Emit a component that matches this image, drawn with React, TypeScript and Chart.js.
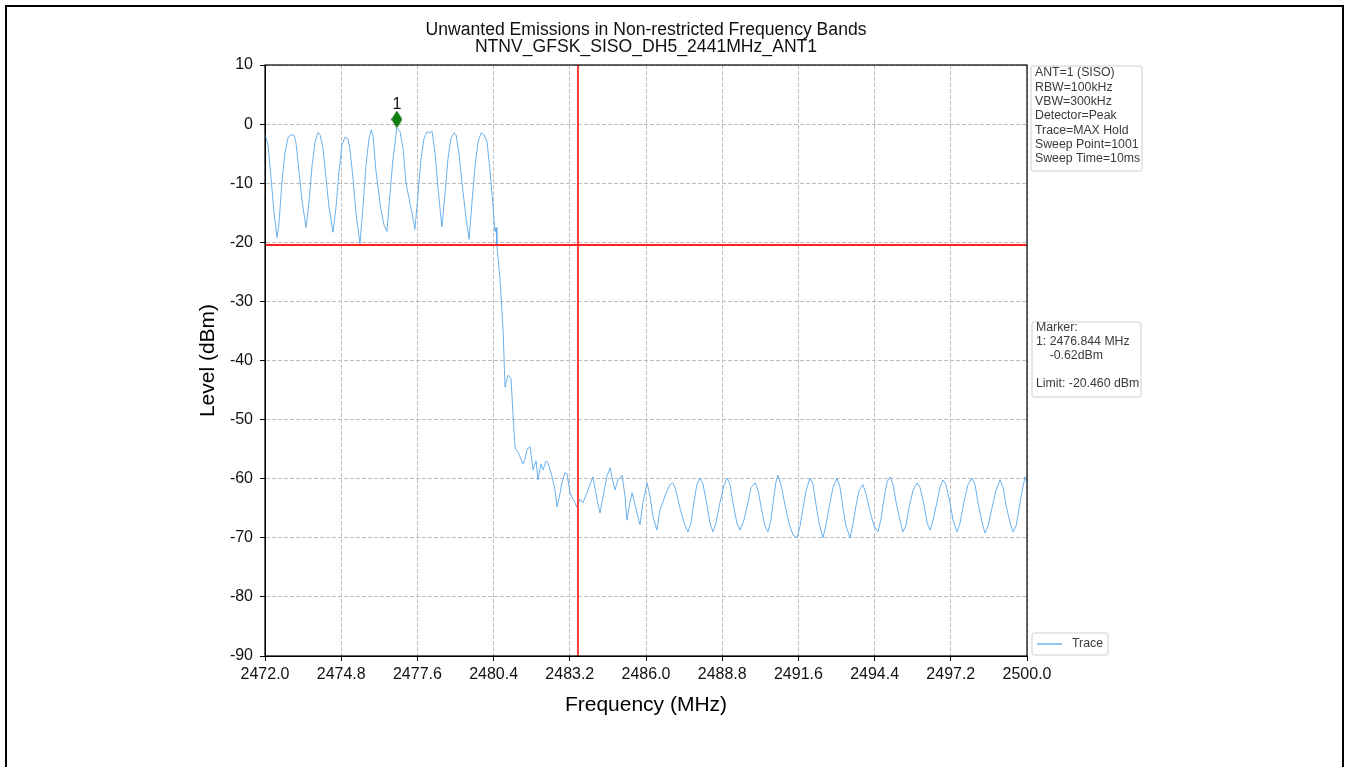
import React, { useEffect, useRef } from 'react';
import { Chart, registerables } from 'chart.js';

Chart.register(...registerables);

// ---------- data ----------
const titleLines = [
  'Unwanted Emissions in Non-restricted Frequency Bands',
  'NTNV_GFSK_SISO_DH5_2441MHz_ANT1',
];
const xAxisTitle = 'Frequency (MHz)';
const yAxisTitle = 'Level (dBm)';

const xTicks = [2472.0, 2474.8, 2477.6, 2480.4, 2483.2, 2486.0, 2488.8, 2491.6, 2494.4, 2497.2, 2500.0];
const yTicks = [-90, -80, -70, -60, -50, -40, -30, -20, -10, 0, 10];

const traceFreq = [
  2472.00, 2472.11, 2472.22, 2472.33, 2472.44, 2472.51, 2472.62, 2472.73, 2472.85, 2472.96,
  2473.07, 2473.14, 2473.25, 2473.36, 2473.51, 2473.62, 2473.73, 2473.84, 2473.95, 2474.02,
  2474.13, 2474.24, 2474.35, 2474.50, 2474.61, 2474.72, 2474.83, 2474.94, 2475.05, 2475.12,
  2475.23, 2475.34, 2475.49, 2475.60, 2475.71, 2475.82, 2475.90, 2475.97, 2476.08, 2476.19,
  2476.26, 2476.37, 2476.48, 2476.59, 2476.70, 2476.81, 2476.84, 2476.89, 2476.96, 2477.07,
  2477.18, 2477.29, 2477.40, 2477.51, 2477.62, 2477.73, 2477.84, 2477.95, 2478.06, 2478.14,
  2478.25, 2478.36, 2478.50, 2478.61, 2478.72, 2478.83, 2478.94, 2479.02, 2479.13, 2479.24,
  2479.39, 2479.50, 2479.61, 2479.72, 2479.83, 2479.94, 2480.05, 2480.16, 2480.27, 2480.38,
  2480.45, 2480.49, 2480.52, 2480.64, 2480.75, 2480.82, 2480.93, 2481.04, 2481.11, 2481.19,
  2481.30, 2481.37, 2481.48, 2481.55, 2481.63, 2481.74, 2481.85, 2481.96, 2482.03, 2482.14,
  2482.22, 2482.33, 2482.40, 2482.55, 2482.66, 2482.73, 2482.84, 2482.91, 2483.02, 2483.10,
  2483.21, 2483.28, 2483.39, 2483.46, 2483.57, 2483.68, 2483.83, 2483.94, 2484.05, 2484.20,
  2484.31, 2484.46, 2484.57, 2484.68, 2484.79, 2484.86, 2484.97, 2485.12, 2485.23, 2485.30,
  2485.41, 2485.49, 2485.60, 2485.71, 2485.78, 2485.89, 2486.04, 2486.15, 2486.26, 2486.40,
  2486.51, 2486.62, 2486.73, 2486.88, 2486.99, 2487.10, 2487.25, 2487.40, 2487.54, 2487.65,
  2487.76, 2487.87, 2487.98, 2488.09, 2488.24, 2488.35, 2488.46, 2488.57, 2488.72, 2488.87,
  2488.98, 2489.09, 2489.23, 2489.34, 2489.45, 2489.60, 2489.75, 2489.86, 2490.01, 2490.12,
  2490.26, 2490.37, 2490.48, 2490.59, 2490.70, 2490.78, 2490.85, 2490.96, 2491.11, 2491.25,
  2491.40, 2491.55, 2491.66, 2491.77, 2491.88, 2492.03, 2492.14, 2492.25, 2492.36, 2492.50,
  2492.61, 2492.72, 2492.87, 2493.02, 2493.13, 2493.24, 2493.35, 2493.50, 2493.61, 2493.72,
  2493.83, 2493.97, 2494.08, 2494.23, 2494.38, 2494.52, 2494.63, 2494.74, 2494.86, 2494.97,
  2495.08, 2495.19, 2495.33, 2495.44, 2495.55, 2495.66, 2495.81, 2495.96, 2496.07, 2496.22,
  2496.33, 2496.44, 2496.55, 2496.69, 2496.80, 2496.91, 2497.02, 2497.17, 2497.28, 2497.43,
  2497.54, 2497.68, 2497.83, 2497.98, 2498.09, 2498.20, 2498.35, 2498.46, 2498.57, 2498.71,
  2498.86, 2499.01, 2499.12, 2499.23, 2499.38, 2499.49, 2499.60, 2499.71, 2499.82, 2499.93,
  2500.00,
];

const traceLevel = [
  -1.8, -3.5, -9, -15, -19.2, -17, -10, -5, -2.2, -1.8,
  -1.9, -3.2, -8, -13, -17.5, -13, -7, -3, -1.4, -1.8,
  -4, -9, -14, -18.3, -14, -8, -3.5, -2.2, -2.5, -4.2,
  -9, -15, -20.2, -14, -7, -2.5, -1.0, -2, -8, -12,
  -14.5, -17, -18.2, -12, -6, -2, -0.62, -0.9, -1.2, -4,
  -10, -12.5, -15, -17.8, -12, -6, -2.5, -1.3, -1.5, -1.2,
  -5, -11, -17.4, -12, -6, -2.5, -1.5, -1.8, -5, -10,
  -16, -19.5, -13, -7, -3, -1.5, -1.8, -3, -8, -14,
  -18.2, -17.5, -20.5, -26.5, -35, -44.5, -42.5, -43, -49, -54.8,
  -55.5, -56.3, -57.5, -56.8, -55, -54.6, -58.5, -57, -60.2, -57.5,
  -58.5, -57, -57.3, -59.7, -62, -64.8, -62.5, -60.7, -59, -59.2,
  -62.4, -63.1, -64.1, -64.8, -63.5, -64.1, -62.4, -61, -59.7, -63.5,
  -65.8, -62, -59.5, -58.2, -60.5, -61.9, -60.2, -59.4, -63, -67,
  -64, -62.4, -64.5, -66.5, -67.8, -64, -60.7, -63, -66.5, -68.7,
  -65.3, -64, -62.5, -61, -60.7, -62, -65, -67.5, -69, -67.5,
  -64, -61, -59.9, -60.8, -64.5, -67.5, -69, -67.5, -64, -61,
  -59.9, -61, -65, -67.5, -68.7, -67, -64, -61.5, -60.7, -62,
  -65.5, -68, -69, -67, -63, -60.5, -59.4, -61, -64.5, -67.5,
  -69.5, -70, -68, -65, -62, -59.9, -61, -64.5, -67.5, -70,
  -68, -65, -61.5, -59.9, -61.5, -65, -68, -70, -67.5, -64.5,
  -62, -61, -62.5, -65.5, -68, -69, -67, -63.5, -60.5, -59.7,
  -61, -64, -67, -69, -68, -65, -62, -60.7, -61.5, -64.5,
  -67.5, -68.7, -67, -64, -61.5, -60.2, -61, -64, -67, -69,
  -67.5, -64, -61, -59.9, -61, -64, -67.5, -69.2, -68, -65,
  -62, -60.2, -61.5, -64.5, -67.5, -69, -68, -65, -62, -59.7,
  -60.5,
];

const limitLevel = -20.46;
const bandEdgeFreq = 2483.5;
const markerFreq = 2476.844;
const markerLevel = -0.62;
const markerPlotLevel = 0.8;
const markerName = '1';

const settingsLines = [
  'ANT=1 (SISO)',
  'RBW=100kHz',
  'VBW=300kHz',
  'Detector=Peak',
  'Trace=MAX Hold',
  'Sweep Point=1001',
  'Sweep Time=10ms',
];
const markerLines = [
  'Marker:',
  `${markerName}: ${markerFreq.toFixed(3)} MHz`,
  `    ${markerLevel.toFixed(2)}dBm`,
  '',
  `Limit: ${limitLevel.toFixed(3)} dBm`,
];
const legendLabel = 'Trace';

// ---------- styles ----------
const FONT = '"Liberation Sans", Arial, "DejaVu Sans", sans-serif';
const TRACE_COLOR = '#5aa8ea';
const W = 1348;
const H = 767;

function makeDiamond(): HTMLCanvasElement {
  const c = document.createElement('canvas');
  c.width = 11;
  c.height = 17;
  const g = c.getContext('2d')!;
  g.beginPath();
  g.moveTo(5.5, 0.5);
  g.lineTo(10.5, 8.5);
  g.lineTo(5.5, 16.5);
  g.lineTo(0.5, 8.5);
  g.closePath();
  g.fillStyle = '#0e800e';
  g.fill();
  g.strokeStyle = '#0a650a';
  g.lineWidth = 1;
  g.stroke();
  return c;
}

function roundRect(ctx: CanvasRenderingContext2D, x: number, y: number, w: number, h: number, r: number) {
  ctx.beginPath();
  ctx.moveTo(x + r, y);
  ctx.lineTo(x + w - r, y);
  ctx.quadraticCurveTo(x + w, y, x + w, y + r);
  ctx.lineTo(x + w, y + h - r);
  ctx.quadraticCurveTo(x + w, y + h, x + w - r, y + h);
  ctx.lineTo(x + r, y + h);
  ctx.quadraticCurveTo(x, y + h, x, y + h - r);
  ctx.lineTo(x, y + r);
  ctx.quadraticCurveTo(x, y, x + r, y);
  ctx.closePath();
}

const decorPlugin = {
  id: 'decor',
  afterDraw(chart: any) {
    const ctx: CanvasRenderingContext2D = chart.ctx;
    const a = chart.chartArea;
    const xs = chart.scales.x;
    const ys = chart.scales.y;
    ctx.save();

    // spines
    ctx.strokeStyle = '#000';
    ctx.lineWidth = 1.2;
    ctx.strokeRect(a.left, a.top, a.right - a.left, a.bottom - a.top);

    // title
    ctx.fillStyle = '#111';
    ctx.textAlign = 'center';
    ctx.textBaseline = 'middle';
    ctx.font = `17.6px ${FONT}`;
    const cx = (a.left + a.right) / 2;
    ctx.fillText(titleLines[0], cx, 30);
    ctx.fillText(titleLines[1], cx, 47);

    // axis titles
    ctx.font = `21px ${FONT}`;
    ctx.fillStyle = '#000';
    ctx.fillText(xAxisTitle, cx, 705);
    ctx.save();
    ctx.translate(208, (a.top + a.bottom) / 2);
    ctx.rotate(-Math.PI / 2);
    ctx.fillText(yAxisTitle, 0, 0);
    ctx.restore();

    // marker label
    const mx = xs.getPixelForValue(markerFreq);
    const my = ys.getPixelForValue(markerPlotLevel);
    ctx.font = `16px ${FONT}`;
    ctx.fillStyle = '#111';
    ctx.fillText(markerName, mx, my - 15);

    // settings box
    ctx.textAlign = 'left';
    ctx.font = `12.3px ${FONT}`;
    const bx = a.right + 4;
    ctx.fillStyle = '#fff';
    roundRect(ctx, bx, 66, 111, 105, 2);
    ctx.fill();
    ctx.strokeStyle = '#cfcfcf';
    ctx.lineWidth = 1;
    ctx.stroke();
    ctx.fillStyle = '#3a3a3a';
    settingsLines.forEach((t, i) => ctx.fillText(t, bx + 4, 73 + i * 14.3));

    // marker box
    ctx.fillStyle = '#fff';
    roundRect(ctx, bx + 1, 322, 109, 75, 2);
    ctx.fill();
    ctx.stroke();
    ctx.fillStyle = '#3a3a3a';
    markerLines.forEach((t, i) => ctx.fillText(t, bx + 5, 328 + i * 14));

    // legend
    ctx.fillStyle = '#fff';
    roundRect(ctx, bx + 1, 633, 76, 22, 2);
    ctx.fill();
    ctx.stroke();
    ctx.strokeStyle = TRACE_COLOR;
    ctx.lineWidth = 1.3;
    ctx.beginPath();
    ctx.moveTo(bx + 6, 644);
    ctx.lineTo(bx + 31, 644);
    ctx.stroke();
    ctx.fillStyle = '#3a3a3a';
    ctx.fillText(legendLabel, bx + 41, 644);

    ctx.restore();
  },
};

export default function App() {
  const ref = useRef<HTMLCanvasElement | null>(null);

  useEffect(() => {
    document.body.style.margin = '0';
    const canvas = ref.current!;
    const diamond = makeDiamond();
    const tickFont = { family: FONT, size: 16 };
    const chart = new Chart(canvas, {
      type: 'line',
      data: {
        datasets: [
          {
            label: 'Limit',
            data: [
              { x: xTicks[0], y: limitLevel },
              { x: xTicks[xTicks.length - 1], y: limitLevel },
            ],
            borderColor: '#ff2020',
            borderWidth: 2,
            pointRadius: 0,
            order: 1,
          },
          {
            label: 'Edge',
            data: [
              { x: bandEdgeFreq, y: yTicks[0] },
              { x: bandEdgeFreq, y: yTicks[yTicks.length - 1] },
            ],
            borderColor: 'rgba(255,40,40,0.9)',
            borderWidth: 2,
            pointRadius: 0,
            order: 1,
          },
          {
            label: 'Marker',
            data: [{ x: markerFreq, y: markerPlotLevel }],
            showLine: false,
            pointStyle: diamond as any,
            pointRadius: 6,
            order: 0,
          },
          {
            label: legendLabel,
            data: traceFreq.map((f, i) => ({ x: f, y: traceLevel[i] })),
            borderColor: TRACE_COLOR,
            borderWidth: 0.9,
            pointRadius: 0,
            tension: 0,
            order: 2,
          },
        ],
      },
      options: {
        animation: false,
        responsive: false,
        devicePixelRatio: 1,
        layout: { padding: { left: 0, right: W - 1027, top: 65, bottom: 0 } },
        plugins: {
          legend: { display: false },
          title: { display: false },
          tooltip: { enabled: false },
        },
        scales: {
          x: {
            type: 'linear',
            min: xTicks[0],
            max: xTicks[xTicks.length - 1],
            afterBuildTicks: (s: any) => {
              s.ticks = xTicks.map((v) => ({ value: v }));
            },
            afterFit: (s: any) => {
              s.height = H - 656;
            },
            ticks: {
              callback: (v: any) => Number(v).toFixed(1),
              font: tickFont,
              color: '#111',
              padding: 4,
              maxRotation: 0,
              autoSkip: false,
            },
            grid: {
              color: '#bdbdbd',
              lineWidth: 1,
              tickColor: '#000',
              tickLength: 5,
              tickBorderDash: [],
            },
            border: { display: true, color: '#000', width: 1, dash: [4, 2] },
          },
          y: {
            type: 'linear',
            min: yTicks[0],
            max: yTicks[yTicks.length - 1],
            afterBuildTicks: (s: any) => {
              s.ticks = yTicks.map((v) => ({ value: v }));
            },
            afterFit: (s: any) => {
              s.width = 265;
            },
            ticks: {
              callback: (v: any) => String(v),
              font: tickFont,
              color: '#111',
              padding: 7,
              autoSkip: false,
            },
            grid: {
              color: '#bdbdbd',
              lineWidth: 1,
              tickColor: '#000',
              tickLength: 5,
              tickBorderDash: [],
            },
            border: { display: true, color: '#000', width: 1, dash: [4, 2] },
          },
        },
      },
      plugins: [decorPlugin],
    } as any);
    return () => chart.destroy();
  }, []);

  return (
    <div style={{ position: 'fixed', left: 0, top: 0, width: W, height: H, overflow: 'hidden', background: '#fff' }}>
      <div
        style={{
          position: 'absolute',
          left: 5,
          top: 5,
          width: 1339,
          height: 820,
          border: '2px solid #000',
          boxSizing: 'border-box',
        }}
      />
      <canvas ref={ref} width={W} height={H} style={{ position: 'absolute', left: 0, top: 0, width: W, height: H }} />
    </div>
  );
}
